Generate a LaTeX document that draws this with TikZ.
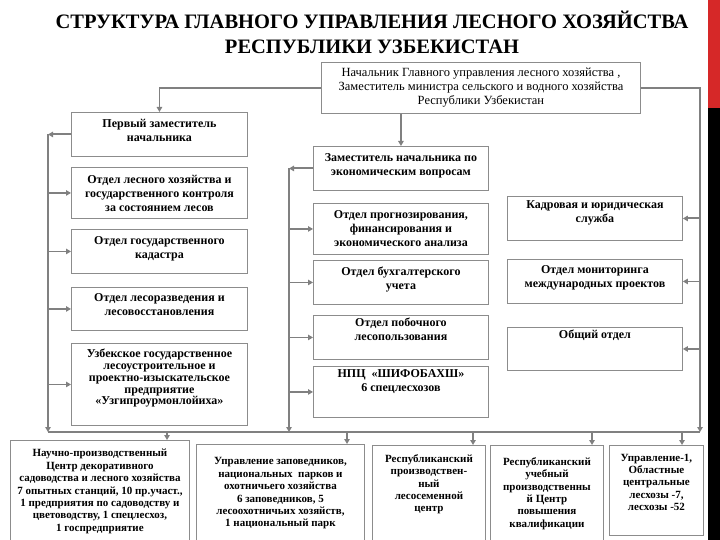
\documentclass[tikz,border=0pt]{standalone}
\usepackage{fontspec}
\setmainfont{Liberation Serif}
\usetikzlibrary{arrows.meta, calc}

\definecolor{linegray}{RGB}{128,128,128}
\definecolor{boxgray}{RGB}{140,140,140}
\definecolor{barred}{RGB}{214,40,40}

\tikzset{
	box/.style={draw=boxgray, line width=0.9pt, inner sep=2pt, align=center, anchor=north west,
		font=\fontsize{12}{14}\selectfont\bfseries},
	small/.style={font=\fontsize{11}{12.4}\selectfont\bfseries},
	lift/.style={text depth=#1},
	conn/.style={draw=linegray, line width=1.9pt},
	arr/.style={conn, -{Triangle[length=5pt, width=5.5pt]}},
}

\begin{document}
\begin{tikzpicture}[x=1pt, y=-1pt]
	\useasboundingbox (0,0) rectangle (720,540);
	\fill[barred] (708,0) rectangle (720,108);
	\fill[black] (708,108) rectangle (720,540);
	\node[font=\fontsize{20.5}{25}\selectfont\bfseries, align=center] (title) at (372,32)
		{СТРУКТУРА ГЛАВНОГО УПРАВЛЕНИЯ ЛЕСНОГО ХОЗЯЙСТВА\\РЕСПУБЛИКИ УЗБЕКИСТАН};
	\node[box, font=\fontsize{12.5}{14}\selectfont, minimum width=319pt, minimum height=51pt] (head) at (321,62)
		{Начальник Главного управления лесного хозяйства ,\\Заместитель министра сельского и водного хозяйства\\Республики Узбекистан};
	% left column
	\node[box, lift=7.5pt, minimum width=176pt, minimum height=44pt] (first) at (71,112) {Первый заместитель\\начальника};
	\node[box, minimum width=176pt, minimum height=51pt] (forest) at (71,167) {Отдел лесного хозяйства и\\государственного контроля\\за состоянием лесов};
	\node[box, lift=7.5pt, minimum width=176pt, minimum height=44pt] (cadastre) at (71,229) {Отдел государственного\\кадастра};
	\node[box, lift=9.5pt, minimum width=176pt, minimum height=43pt] (affor) at (71,287) {Отдел лесоразведения и\\лесовосстановления};
	\node[box, font=\fontsize{12}{11.8}\selectfont\bfseries, lift=15pt, minimum width=176pt, minimum height=82pt] (uzgip) at (71,343)
		{Узбекское государственное\\лесоустроительное и\\проектно-изыскательское\\предприятие\\«Узгипроурмонлойиха»};
	% middle column
	\node[box, lift=8.5pt, minimum width=175pt, minimum height=44pt] (zam) at (313,146) {Заместитель начальника по\\экономическим вопросам};
	\node[box, minimum width=175pt, minimum height=51pt] (prog) at (313,203) {Отдел прогнозирования,\\финансирования и\\экономического анализа};
	\node[box, lift=8.5pt, minimum width=175pt, minimum height=44pt] (buh) at (313,260) {Отдел бухгалтерского\\учета};
	\node[box, lift=16pt, minimum width=175pt, minimum height=44pt] (pob) at (313,315) {Отдел побочного\\лесопользования};
	\node[box, lift=23pt, minimum width=175pt, minimum height=51pt] (npc) at (313,366) {НПЦ~~«ШИФОБАХШ»\\6 спецлесхозов};
	% right column
	\node[box, lift=14.5pt, minimum width=175pt, minimum height=44pt] (kadr) at (507,196) {Кадровая и юридическая\\служба};
	\node[box, lift=10.5pt, minimum width=175pt, minimum height=44pt] (monit) at (507,259) {Отдел мониторинга\\международных проектов};
	\node[box, lift=29pt, minimum width=175pt, minimum height=43pt] (obsh) at (507,327) {Общий отдел};
	% bottom row
	\node[box, small, minimum width=179pt, minimum height=102pt] (nauch) at (10,440)
		{Научно-производственный\\Центр декоративного\\садоводства и лесного хозяйства\\7 опытных станций, 10 пр.участ.,\\1 предприятия по садоводству и\\цветоводству, 1 спецлесхоз,\\1 госпредприятие};
	\node[box, small, minimum width=168pt, minimum height=98pt] (zapov) at (196,444)
		{Управление заповедников,\\национальных~ парков и\\охотничьего хозяйства\\6 заповедников, 5\\лесоохотничьих хозяйств,\\1 национальный парк};
	\node[box, small, lift=20.5pt, minimum width=113pt, minimum height=96pt] (respp) at (372,445)
		{Республиканский\\производствен-\\ный\\лесосеменной\\центр};
	\node[box, small, minimum width=113pt, minimum height=96pt] (respu) at (490,445)
		{Республиканский\\учебный\\производственны\\й Центр\\повышения\\квалификации};
	\node[box, small, lift=16.5pt, minimum width=94pt, minimum height=90pt] (upr1) at (609,445)
		{Управление-1,\\Областные\\центральные\\лесхозы -7,\\лесхозы -52};
	% spines and bus
	\coordinate (lsp) at (48,0);
	\coordinate (msp) at (289,0);
	\coordinate (rsp) at (700,0);
	\coordinate (bus) at (0,432);
	\draw[arr] (head.west) -| (first.north);
	\draw[arr] (head.south -| zam.north) -- (zam.north);
	\draw[arr] (head.east) -| (rsp |- bus);
	\draw[arr] (first.west) -- (first.west -| lsp);
	\draw[arr] (first.west -| lsp) -- (lsp |- bus);
	\draw[arr] (zam.west) -- (zam.west -| msp);
	\draw[arr] (zam.west -| msp) -- (msp |- bus);
	\foreach \b in {forest, cadastre, affor, uzgip} \draw[arr] (\b.west -| lsp) -- (\b.west);
	\foreach \b in {prog, buh, pob, npc} \draw[arr] (\b.west -| msp) -- (\b.west);
	\foreach \b in {kadr, monit, obsh} \draw[arr] (\b.east -| rsp) -- (\b.east);
	\draw[conn] (lsp |- bus) -- (rsp |- bus);
	\foreach \b/\x in {nauch/167, zapov/347, respp/473, respu/592, upr1/682} \draw[arr] (\x,432) -- (\x,0 |- \b.north);
\end{tikzpicture}
\end{document}
